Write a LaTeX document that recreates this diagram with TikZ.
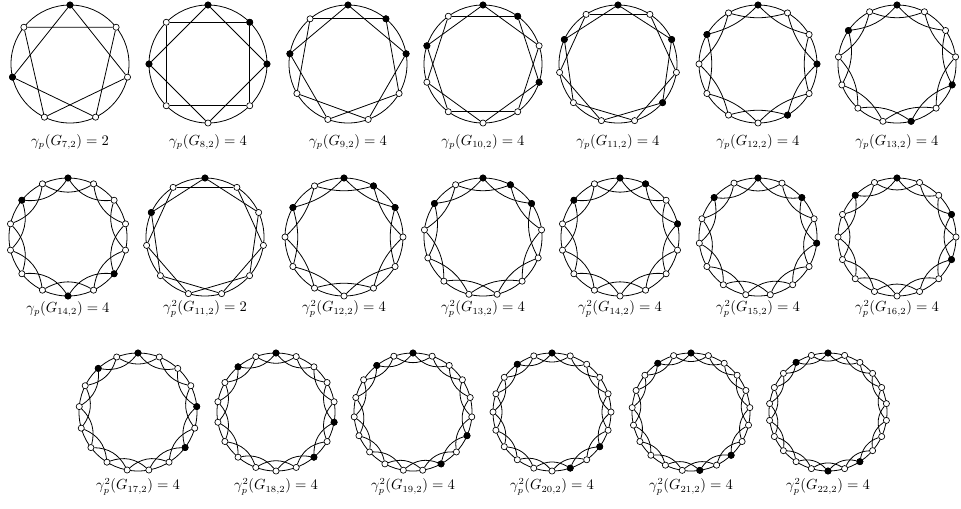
\documentclass[tikz,border=0pt]{standalone}
\usetikzlibrary{positioning}
\usepackage{amsmath, amssymb}

\tikzset{
  wv/.style={circle, draw, fill=white, inner sep=0pt, minimum size=4.6pt, line width=0.5pt},
  bv/.style={wv, fill=black},
  gedge/.style={line width=0.6pt},
  glabel/.style={font=\fontsize{10.7}{12.8}\selectfont, inner sep=1pt},
}
\newcommand{\gvertr}{59}
% #1 name, #2 x, #3 y, #4 label y, #5 n, #6 bend, #7 black vertices, #8 label
\newcommand{\circgraph}[8]{%
  \begin{scope}[shift={(#2,-#3)}]
    \pgfmathtruncatemacro{\nlast}{#5-1}
    \draw[gedge] (0,0) circle (\gvertr);
    \foreach \k in {0,...,\nlast}
      \node[wv] (#1-\k) at ({90+360*\k/#5}:\gvertr) {};
    \foreach \k in {0,...,\nlast} {
      \pgfmathtruncatemacro{\j}{mod(\k+2,#5)}
      \draw[gedge] (#1-\k) to[bend left=#6] (#1-\j);
    }
    \foreach \k in {#7}
      \node[bv] (#1-b\k) at (#1-\k) {};
    \node[glabel] (#1-lab) at (0,{#3-#4}) {$#8$};
  \end{scope}}

\begin{document}
\begin{tikzpicture}[x=0.75pt, y=0.75pt]
  \useasboundingbox (0,0) rectangle (961,-508);
  % first row
  \circgraph{g7}{70}{64}{142}{7}{0}{0,2}{\gamma_p(G_{7,2}) = 2}
  \circgraph{g8}{208}{64}{142}{8}{0}{0,2,6,7}{\gamma_p(G_{8,2}) = 4}
  \circgraph{g9}{348}{64}{142}{9}{0}{0,2,7,8}{\gamma_p(G_{9,2}) = 4}
  \circgraph{g10}{483}{64}{142}{10}{0}{0,2,7,9}{\gamma_p(G_{10,2}) = 4}
  \circgraph{g11}{618}{64}{142}{11}{0}{0,2,7,9}{\gamma_p(G_{11,2}) = 4}
  \circgraph{g12}{758}{64}{142}{12}{15}{0,2,7,9}{\gamma_p(G_{12,2}) = 4}
  \circgraph{g13}{897}{64}{142}{13}{20}{0,2,7,9}{\gamma_p(G_{13,2}) = 4}
  % second row
  \circgraph{g14}{68}{237}{309}{14}{30}{0,2,7,9}{\gamma_p(G_{14,2}) = 4}
  \circgraph{h11}{205}{237}{309}{11}{0}{0,2}{\gamma_p^2(G_{11,2}) = 2}
  \circgraph{h12}{344}{237}{309}{12}{15}{0,2,10,11}{\gamma_p^2(G_{12,2}) = 4}
  \circgraph{h13}{483}{237}{309}{13}{20}{0,2,11,12}{\gamma_p^2(G_{13,2}) = 4}
  \circgraph{h14}{620}{237}{309}{14}{30}{0,2,11,13}{\gamma_p^2(G_{14,2}) = 4}
  \circgraph{h15}{758}{237}{309}{15}{30}{0,2,11,13}{\gamma_p^2(G_{15,2}) = 4}
  \circgraph{h16}{897}{237}{309}{16}{30}{0,2,11,13}{\gamma_p^2(G_{16,2}) = 4}
  % third row
  \circgraph{h17}{138}{412}{487}{17}{30}{0,2,11,13}{\gamma_p^2(G_{17,2}) = 4}
  \circgraph{h18}{276}{412}{487}{18}{30}{0,2,11,13}{\gamma_p^2(G_{18,2}) = 4}
  \circgraph{h19}{413}{412}{487}{19}{30}{0,2,11,13}{\gamma_p^2(G_{19,2}) = 4}
  \circgraph{h20}{552}{412}{487}{20}{30}{0,2,11,13}{\gamma_p^2(G_{20,2}) = 4}
  \circgraph{h21}{691}{412}{487}{21}{30}{0,2,11,13}{\gamma_p^2(G_{21,2}) = 4}
  \circgraph{h22}{828}{412}{487}{22}{30}{0,2,11,13}{\gamma_p^2(G_{22,2}) = 4}
\end{tikzpicture}
\end{document}
